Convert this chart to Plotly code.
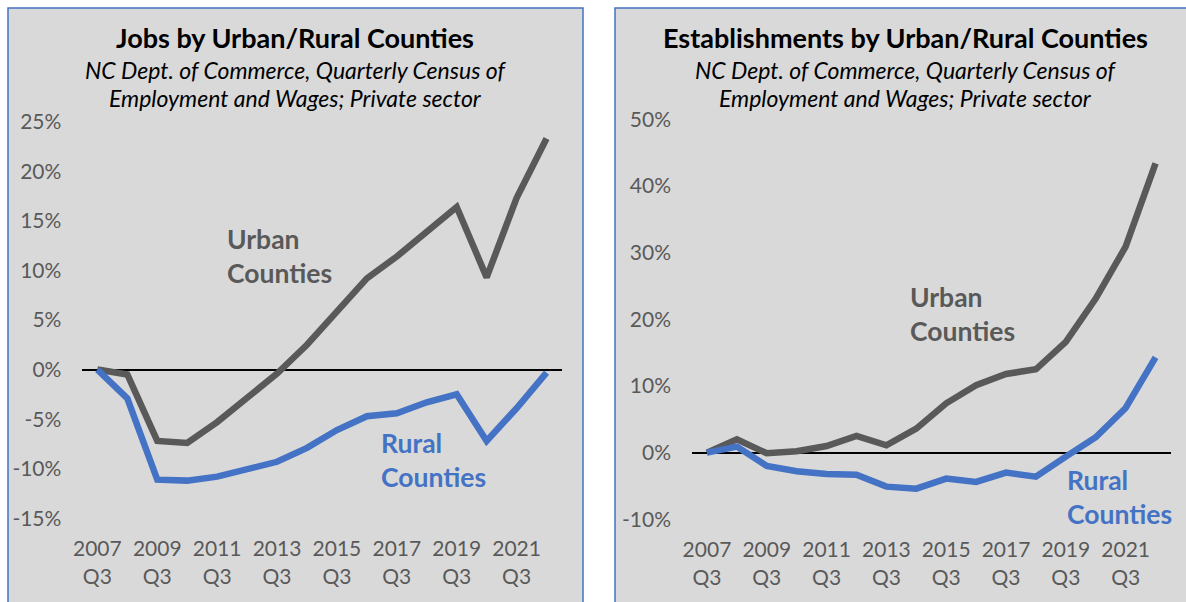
import plotly.graph_objects as go

W, H = 1186, 602

categories = ["2007 Q3", "2008 Q3", "2009 Q3", "2010 Q3", "2011 Q3", "2012 Q3", "2013 Q3", "2014 Q3",
              "2015 Q3", "2016 Q3", "2017 Q3", "2018 Q3", "2019 Q3", "2020 Q3", "2021 Q3", "2022 Q3"]
shown_ticks = ["2007 Q3", "2009 Q3", "2011 Q3", "2013 Q3", "2015 Q3", "2017 Q3", "2019 Q3", "2021 Q3"]
shown_tick_text = ["2007<br>Q3", "2009<br>Q3", "2011<br>Q3", "2013<br>Q3", "2015<br>Q3", "2017<br>Q3",
                   "2019<br>Q3", "2021<br>Q3"]

# percent change since 2007 Q3
jobs_urban = [0, -0.5, -7.2, -7.4, -5.3, -2.9, -0.4, 2.5, 5.8, 9.2, 11.4, 13.8, 16.4, 9.3, 17.3, 23.3]
jobs_rural = [0, -2.9, -11.1, -11.2, -10.8, -10.1, -9.3, -7.9, -6.1, -4.7, -4.4, -3.3, -2.5, -7.2, -3.9, -0.3]
est_urban = [0, 2.0, -0.1, 0.2, 1.0, 2.5, 1.1, 3.6, 7.4, 10.1, 11.8, 12.5, 16.6, 23.1, 30.9, 43.4]
est_rural = [0, 0.9, -2.0, -2.8, -3.2, -3.3, -5.1, -5.4, -3.9, -4.4, -3.0, -3.6, -0.6, 2.3, 6.7, 14.3]

jobs_yticks = [-15, -10, -5, 0, 5, 10, 15, 20, 25]
jobs_ytext = ["-15%", "-10%", "-5%", "0%", "5%", "10%", "15%", "20%", "25%"]
est_yticks = [-10, 0, 10, 20, 30, 40, 50]
est_ytext = ["-10%", "0%", "10%", "20%", "30%", "40%", "50%"]

URBAN = "#595959"
RURAL = "#4472C4"
FONT = "Lato"

def px(x):
    return x / W

def py(y):
    return 1 - y / H

fig = go.Figure()
fig.add_trace(go.Scatter(x=categories, y=jobs_urban, mode="lines", line=dict(color=URBAN, width=6.5),
                         xaxis="x", yaxis="y", hoverinfo="skip"))
fig.add_trace(go.Scatter(x=categories, y=jobs_rural, mode="lines", line=dict(color=RURAL, width=6.5),
                         xaxis="x", yaxis="y", hoverinfo="skip"))
fig.add_trace(go.Scatter(x=categories, y=est_urban, mode="lines", line=dict(color=URBAN, width=6.5),
                         xaxis="x2", yaxis="y2", hoverinfo="skip"))
fig.add_trace(go.Scatter(x=categories, y=est_rural, mode="lines", line=dict(color=RURAL, width=6.5),
                         xaxis="x2", yaxis="y2", hoverinfo="skip"))

tickfont = dict(family=FONT, size=21, color="#595959")
xcommon = dict(type="category", range=[-0.5, len(categories) - 0.5], tickvals=shown_ticks,
               ticktext=shown_tick_text, showgrid=False, showline=False, ticks="", zeroline=False,
               tickfont=tickfont, ticklabelstandoff=16, fixedrange=True, automargin=False)
ycommon = dict(showgrid=False, showline=False, ticks="", zeroline=True, zerolinecolor="black",
               zerolinewidth=1.5, tickfont=tickfont, ticklabelstandoff=20, fixedrange=True,
               automargin=False)

fig.update_layout(
    width=W, height=H,
    autosize=False,
    margin=dict(l=0, r=0, t=0, b=0, pad=0, autoexpand=False),
    paper_bgcolor="white",
    plot_bgcolor="rgba(0,0,0,0)",
    showlegend=False,
    xaxis=dict(domain=[px(82.4), px(561.5)], anchor="y", **xcommon),
    yaxis=dict(domain=[py(518.3), py(121.7)], anchor="x", range=[-15, 25],
               tickvals=jobs_yticks, ticktext=jobs_ytext, **ycommon),
    xaxis2=dict(domain=[px(692), px(1170.5)], anchor="y2", **xcommon),
    yaxis2=dict(domain=[py(519.3), py(119.3)], anchor="x2", range=[-10, 50],
                tickvals=est_yticks, ticktext=est_ytext, **ycommon),
)

# panel backgrounds
for x0, x1 in [(8, 583), (615, 1200)]:
    fig.add_shape(type="rect", xref="paper", yref="paper", x0=px(x0), x1=px(x1), y0=py(620), y1=py(8),
                  fillcolor="#D9D9D9", line=dict(color="#4472C4", width=1.5), layer="below")

def text(x, y, s, size, color="black", bold=False, italic=False, xanchor="center", align="center"):
    fig.add_annotation(xref="paper", yref="paper", x=px(x), y=py(y), text=s, showarrow=False,
                       xanchor=xanchor, yanchor="middle", align=align,
                       font=dict(family=FONT, size=size, color=color,
                                 weight="bold" if bold else "normal",
                                 style="italic" if italic else "normal"))

text(295, 37, "Jobs by Urban/Rural Counties", 27, bold=True)
text(295, 70, "NC Dept. of Commerce, Quarterly Census of", 23, italic=True)
text(295, 98, "Employment and Wages; Private sector", 23, italic=True)

text(905, 37, "Establishments by Urban/Rural Counties", 27, bold=True)
text(905, 70, "NC Dept. of Commerce, Quarterly Census of", 23, italic=True)
text(905, 98, "Employment and Wages; Private sector", 23, italic=True)

text(225, 256, "Urban<br>Counties", 26.5, color=URBAN, bold=True, xanchor="left", align="left")
text(379, 460, "Rural<br>Counties", 26.5, color=RURAL, bold=True, xanchor="left", align="left")
text(908, 314, "Urban<br>Counties", 26.5, color=URBAN, bold=True, xanchor="left", align="left")
text(1065, 497, "Rural<br>Counties", 26.5, color=RURAL, bold=True, xanchor="left", align="left")

fig.write_html("out.html", config={"responsive": False, "displayModeBar": False},
               post_script="document.body.style.margin='0';document.body.style.overflow='hidden';")
